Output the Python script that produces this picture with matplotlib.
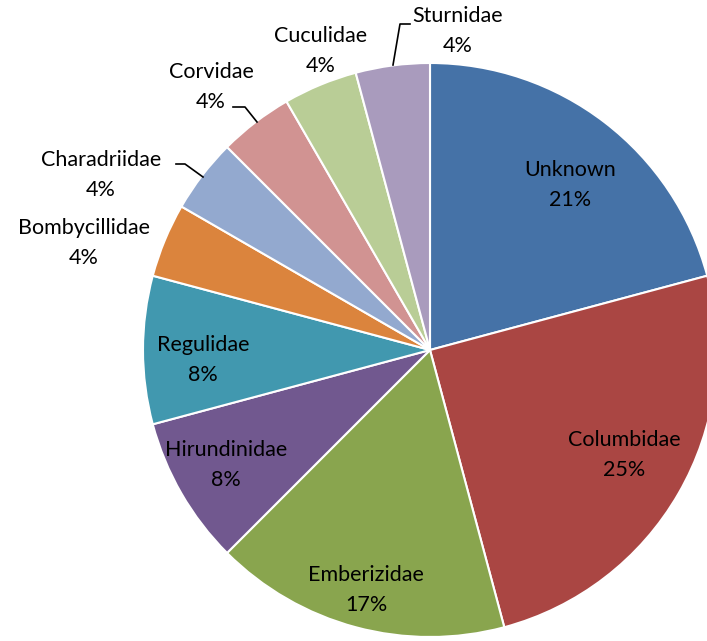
import matplotlib.pyplot as plt

plt.rcParams['font.family'] = ['Lato', 'DejaVu Sans']

# bird families, counts (24 records in total)
families = ["Unknown", "Columbidae", "Emberizidae", "Hirundinidae", "Regulidae",
            "Bombycillidae", "Charadriidae", "Corvidae", "Cuculidae", "Sturnidae"]
counts = [5, 6, 4, 2, 2, 1, 1, 1, 1, 1]
colors = ["#4572A7", "#AA4643", "#89A54E", "#71588F", "#4198AF",
          "#DB843D", "#93A9CF", "#D19392", "#B9CD96", "#A99BBD"]

W, H = 707, 641
CX, CY, R = 430, 350, 287

fig = plt.figure(figsize=(W / 100, H / 100), dpi=100)
ax = fig.add_axes([(CX - R) / W, (H - CY - R) / H, 2 * R / W, 2 * R / H])


def px(x, y):
    # pixel position in the picture -> data coords of the pie axes
    return (x - CX) / R, (CY - y) / R


ax.pie(counts, colors=colors, startangle=90, counterclock=False, radius=1,
       wedgeprops=dict(edgecolor="white", linewidth=1.5))
ax.set_xlim(-1, 1)
ax.set_ylim(-1, 1)
ax.set_aspect("auto")
ax.axis("off")

total = sum(counts)
label_pos = [(570, 185), (624, 455), (366, 590), (226, 465), (203, 360),
             (84, 243), (101, 175), (211, 87), (321, 51), (458, 31)]
for name, c, (x, y) in zip(families, counts, label_pos):
    pct = round(100 * c / total)
    ax.text(*px(x, y), f"{name}\n{pct}%", ha="center", va="center",
            fontsize=15.5, linespacing=1.6, color="black")

# leader lines
leaders = [
    [(176, 164), (185, 164), (203, 177)],   # Charadriidae
    [(233, 107), (245, 107), (257, 122)],   # Corvidae
    [(410, 24), (400, 24), (393, 65)],      # Sturnidae
]
for pts in leaders:
    xs, ys = zip(*[px(a, b) for a, b in pts])
    ax.plot(xs, ys, color="black", linewidth=1.2, clip_on=False)

fig.savefig("out.png", dpi=100)
